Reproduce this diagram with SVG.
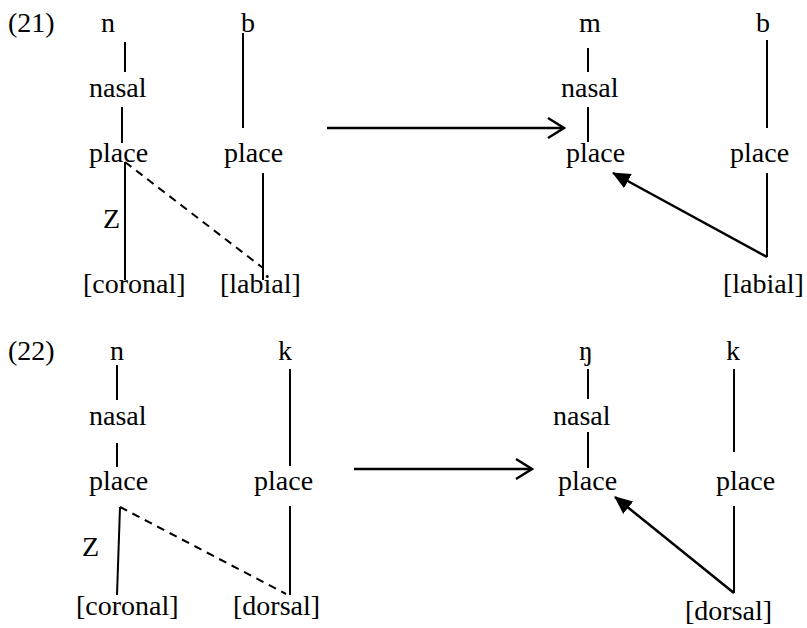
<svg xmlns="http://www.w3.org/2000/svg" width="807" height="628" viewBox="0 0 807 628">
<defs>
<style>
text{font-family:"Liberation Serif","Times New Roman",serif;font-size:28px;fill:#000}
.l{stroke:#000;stroke-width:2;fill:none}
.d{stroke:#000;stroke-width:2;fill:none;stroke-dasharray:8 6}
.a{stroke:#000;stroke-width:2.5;fill:none}
</style>
<marker id="open" viewBox="0 0 20 24" refX="18" refY="12" markerWidth="20" markerHeight="24" markerUnits="userSpaceOnUse" orient="auto">
<path d="M2,2 L18,12 L2,22" fill="none" stroke="#000" stroke-width="2.5"/>
</marker>
<marker id="fill" viewBox="0 0 18 16" refX="17" refY="8" markerWidth="18" markerHeight="16" markerUnits="userSpaceOnUse" orient="auto">
<path d="M0,0 L18,8 L0,16 Z" fill="#000"/>
</marker>
</defs>
<rect width="807" height="628" fill="#fff"/>
<g id="ex21-label"><text x="8" y="32">(21)</text></g>
<g id="ex21-n"><text x="108" y="32" text-anchor="middle">n</text></g>
<g id="ex21-n-nasal"><text x="89" y="97">nasal</text></g>
<g id="ex21-n-place"><text x="89" y="162">place</text></g>
<g id="ex21-Z"><text x="103" y="228">Z</text></g>
<g id="ex21-coronal"><text x="83" y="293">[coronal]</text></g>
<g id="ex21-b"><text x="248" y="32" text-anchor="middle">b</text></g>
<g id="ex21-b-place"><text x="224" y="162">place</text></g>
<g id="ex21-labial"><text x="220" y="293">[labial]</text></g>
<g id="ex21-m"><text x="590" y="32" text-anchor="middle">m</text></g>
<g id="ex21-m-nasal"><text x="561" y="97">nasal</text></g>
<g id="ex21-m-place"><text x="566" y="162">place</text></g>
<g id="ex21-b2"><text x="763" y="32" text-anchor="middle">b</text></g>
<g id="ex21-b2-place"><text x="730" y="162">place</text></g>
<g id="ex21-labial2"><text x="723" y="293">[labial]</text></g>

<g id="ex22-label"><text x="8" y="360">(22)</text></g>
<g id="ex22-n"><text x="117" y="360" text-anchor="middle">n</text></g>
<g id="ex22-n-nasal"><text x="89" y="425">nasal</text></g>
<g id="ex22-n-place"><text x="89" y="490">place</text></g>
<g id="ex22-Z"><text x="82" y="556">Z</text></g>
<g id="ex22-coronal"><text x="76" y="615">[coronal]</text></g>
<g id="ex22-k"><text x="285" y="360" text-anchor="middle">k</text></g>
<g id="ex22-k-place"><text x="254" y="490">place</text></g>
<g id="ex22-dorsal"><text x="233" y="615">[dorsal]</text></g>
<g id="ex22-ng"><text x="586" y="360" text-anchor="middle">ŋ</text></g>
<g id="ex22-ng-nasal"><text x="553" y="425">nasal</text></g>
<g id="ex22-ng-place"><text x="558" y="490">place</text></g>
<g id="ex22-k2"><text x="733" y="360" text-anchor="middle">k</text></g>
<g id="ex22-k2-place"><text x="716" y="490">place</text></g>
<g id="ex22-dorsal2"><text x="685" y="620">[dorsal]</text></g>

<g id="connectors">
<line class="l" x1="125" y1="42" x2="125" y2="72"/>
<line class="l" x1="122" y1="107" x2="122" y2="143"/>
<line class="l" x1="125" y1="162" x2="125" y2="280"/>
<line class="d" x1="125" y1="162" x2="263" y2="268"/>
<line class="l" x1="243" y1="33" x2="243" y2="128"/>
<line class="l" x1="263" y1="173" x2="263" y2="280"/>
<line class="a" x1="327" y1="128" x2="564" y2="128" marker-end="url(#open)"/>
<line class="l" x1="588" y1="48" x2="588" y2="72"/>
<line class="l" x1="588" y1="107" x2="588" y2="142"/>
<line class="l" x1="767" y1="40" x2="767" y2="128"/>
<line class="l" x1="767" y1="173" x2="767" y2="257"/>
<line class="a" x1="767" y1="257" x2="613" y2="173" marker-end="url(#fill)"/>

<line class="l" x1="117" y1="365" x2="117" y2="400"/>
<line class="l" x1="117" y1="443" x2="117" y2="467"/>
<line class="l" x1="120" y1="507" x2="117" y2="595"/>
<line class="d" x1="120" y1="507" x2="286" y2="594"/>
<line class="l" x1="290" y1="369" x2="290" y2="466"/>
<line class="l" x1="290" y1="506" x2="290" y2="595"/>
<line class="a" x1="354" y1="469" x2="532" y2="469" marker-end="url(#open)"/>
<line class="l" x1="588" y1="369" x2="588" y2="399"/>
<line class="l" x1="588" y1="432" x2="588" y2="468"/>
<line class="l" x1="734" y1="369" x2="734" y2="452"/>
<line class="l" x1="734" y1="506" x2="734" y2="593"/>
<line class="a" x1="734" y1="593" x2="615" y2="497" marker-end="url(#fill)"/>
</g>
</svg>
